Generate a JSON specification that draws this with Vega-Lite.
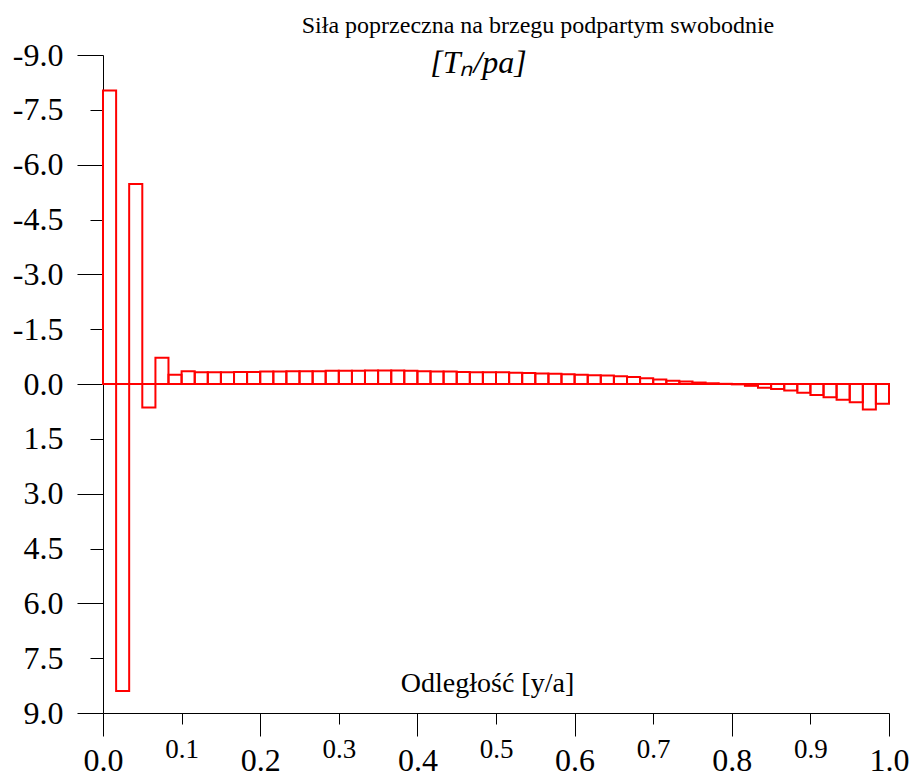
{
  "$schema": "https://vega.github.io/schema/vega-lite/v6.json",
  "width": 786,
  "height": 658,
  "autosize": {"type": "none"},
  "padding": {"left": 103, "top": 55, "right": 24, "bottom": 63},
  "background": "white",
  "config": {
    "view": {"stroke": null},
    "axis": {"labelColor": "black", "titleColor": "black", "grid": false, "domainColor": "black", "tickColor": "black", "labelOverlap": false, "labelFlush": false, "labelBound": false}
  },
  "title": {
    "text": "Siła poprzeczna na brzegu podpartym swobodnie",
    "font": "Liberation Serif",
    "fontSize": 24,
    "fontWeight": "normal",
    "color": "black",
    "anchor": "middle",
    "dx": 42,
    "dy": 7,
    "offset": 8
  },
  "data": {
    "values": [
      {"start": 0, "end": 0.0167, "v": -8.03},
      {"start": 0.0167, "end": 0.0333, "v": 8.4},
      {"start": 0.0333, "end": 0.05, "v": -5.47},
      {"start": 0.05, "end": 0.0667, "v": 0.64},
      {"start": 0.0667, "end": 0.0833, "v": -0.72},
      {"start": 0.0833, "end": 0.1, "v": -0.25},
      {"start": 0.1, "end": 0.1167, "v": -0.35},
      {"start": 0.1167, "end": 0.1333, "v": -0.32},
      {"start": 0.1333, "end": 0.15, "v": -0.32},
      {"start": 0.15, "end": 0.1667, "v": -0.32},
      {"start": 0.1667, "end": 0.1833, "v": -0.33},
      {"start": 0.1833, "end": 0.2, "v": -0.33},
      {"start": 0.2, "end": 0.2167, "v": -0.34},
      {"start": 0.2167, "end": 0.2333, "v": -0.34},
      {"start": 0.2333, "end": 0.25, "v": -0.35},
      {"start": 0.25, "end": 0.2667, "v": -0.35},
      {"start": 0.2667, "end": 0.2833, "v": -0.35},
      {"start": 0.2833, "end": 0.3, "v": -0.36},
      {"start": 0.3, "end": 0.3167, "v": -0.36},
      {"start": 0.3167, "end": 0.3333, "v": -0.36},
      {"start": 0.3333, "end": 0.35, "v": -0.37},
      {"start": 0.35, "end": 0.3667, "v": -0.37},
      {"start": 0.3667, "end": 0.3833, "v": -0.37},
      {"start": 0.3833, "end": 0.4, "v": -0.36},
      {"start": 0.4, "end": 0.4167, "v": -0.35},
      {"start": 0.4167, "end": 0.4333, "v": -0.34},
      {"start": 0.4333, "end": 0.45, "v": -0.34},
      {"start": 0.45, "end": 0.4667, "v": -0.33},
      {"start": 0.4667, "end": 0.4833, "v": -0.32},
      {"start": 0.4833, "end": 0.5, "v": -0.32},
      {"start": 0.5, "end": 0.5167, "v": -0.32},
      {"start": 0.5167, "end": 0.5333, "v": -0.31},
      {"start": 0.5333, "end": 0.55, "v": -0.3},
      {"start": 0.55, "end": 0.5667, "v": -0.29},
      {"start": 0.5667, "end": 0.5833, "v": -0.28},
      {"start": 0.5833, "end": 0.6, "v": -0.27},
      {"start": 0.6, "end": 0.6167, "v": -0.25},
      {"start": 0.6167, "end": 0.6333, "v": -0.24},
      {"start": 0.6333, "end": 0.65, "v": -0.23},
      {"start": 0.65, "end": 0.6667, "v": -0.21},
      {"start": 0.6667, "end": 0.6833, "v": -0.19},
      {"start": 0.6833, "end": 0.7, "v": -0.16},
      {"start": 0.7, "end": 0.7167, "v": -0.12},
      {"start": 0.7167, "end": 0.7333, "v": -0.09},
      {"start": 0.7333, "end": 0.75, "v": -0.07},
      {"start": 0.75, "end": 0.7667, "v": -0.04},
      {"start": 0.7667, "end": 0.7833, "v": -0.02},
      {"start": 0.7833, "end": 0.8, "v": -0.005},
      {"start": 0.8, "end": 0.8167, "v": 0.01},
      {"start": 0.8167, "end": 0.8333, "v": 0.05},
      {"start": 0.8333, "end": 0.85, "v": 0.1},
      {"start": 0.85, "end": 0.8667, "v": 0.14},
      {"start": 0.8667, "end": 0.8833, "v": 0.18},
      {"start": 0.8833, "end": 0.9, "v": 0.24},
      {"start": 0.9, "end": 0.9167, "v": 0.3},
      {"start": 0.9167, "end": 0.9333, "v": 0.36},
      {"start": 0.9333, "end": 0.95, "v": 0.43},
      {"start": 0.95, "end": 0.9667, "v": 0.5},
      {"start": 0.9667, "end": 0.9833, "v": 0.7},
      {"start": 0.9833, "end": 1, "v": 0.54}
    ]
  },
  "mark": {"type": "bar", "filled": false, "color": "#ff0000", "strokeWidth": 2},
  "encoding": {
    "x": {
      "field": "start",
      "type": "quantitative",
      "scale": {"domain": [0, 1], "nice": false, "zero": false},
      "axis": {
        "orient": "bottom",
        "values": [0, 0.1, 0.2, 0.3, 0.4, 0.5, 0.6, 0.7, 0.8, 0.9, 1.0],
        "format": ".1f",
        "labelFont": "Liberation Serif",
        "titleFont": "Liberation Serif",
        "tickSize": {"condition": {"test": "abs(round(datum.value*10)) % 2 == 0", "value": 23}, "value": 11},
        "labelFontSize": {"condition": {"test": "abs(round(datum.value*10)) % 2 == 0", "value": 32}, "value": 27},
        "labelPadding": {"condition": {"test": "abs(round(datum.value*10)) % 2 == 0", "value": 34}, "value": 33},
        "labelBaseline": "alphabetic",
        "title": "Odległość [y/a]",
        "titleFontSize": 28,
        "titleFontWeight": "normal",
        "titleX": 384,
        "titleY": -30,
        "titleAlign": "center",
        "titleBaseline": "middle"
      }
    },
    "x2": {"field": "end"},
    "y": {
      "field": "v",
      "type": "quantitative",
      "scale": {"domain": [-9, 9], "reverse": true, "nice": false},
      "axis": {
        "orient": "left",
        "values": [-9, -7.5, -6, -4.5, -3, -1.5, 0, 1.5, 3, 4.5, 6, 7.5, 9],
        "labelExpr": "(datum.value < 0 ? '-' : '') + format(abs(datum.value), '.1f')",
        "labelFont": "Liberation Serif",
        "titleFont": "Liberation Serif",
        "tickSize": {"condition": {"test": "abs(round(datum.value/1.5)) % 2 == 0", "value": 26}, "value": 13},
        "labelPadding": {"condition": {"test": "abs(round(datum.value/1.5)) % 2 == 0", "value": 14}, "value": 27},
        "labelFontSize": 32,
        "labelAlign": "right",
        "labelBaseline": "middle",
        "title": "[Tₙ/pa]",
        "titleFontSize": 32,
        "titleFontWeight": "normal",
        "titleFontStyle": "italic",
        "titleAngle": 0,
        "titleX": 375,
        "titleY": 7,
        "titleAlign": "center",
        "titleBaseline": "middle"
      }
    },
    "y2": {"datum": 0}
  }
}
